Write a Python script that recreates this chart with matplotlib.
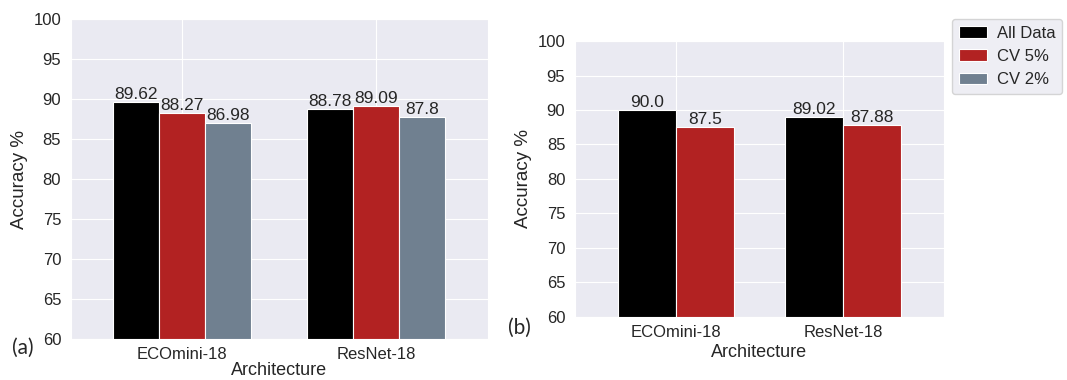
import numpy as np
import matplotlib
matplotlib.use('Agg')
import matplotlib.pyplot as plt
import seaborn as sns

sns.set_style('darkgrid')
plt.rcParams['font.family'] = ['Liberation Sans', 'DejaVu Sans']

# Accuracy per architecture
architectures = ['ECOmini-18', 'ResNet-18']
series = ['All Data', 'CV 5%', 'CV 2%']
colors = ['black', 'firebrick', 'slategray']

acc_a = [
    [89.62, 88.78],   # All Data
    [88.27, 89.09],   # CV 5%
    [86.98, 87.8],    # CV 2%
]
acc_b = [
    [90.0, 89.02],    # All Data
    [87.5, 87.88],    # CV 5%
]

fig = plt.figure(figsize=(10.67, 3.8), dpi=100)
ax_a = fig.add_axes([0.0665, 0.1079, 0.3908, 0.842])
ax_b = fig.add_axes([0.5389, 0.1658, 0.3458, 0.7263])

x = np.arange(len(architectures))

# Panel (a): three bars per architecture
w = 0.237
handles = []
for i, vals in enumerate(acc_a):
    bars = ax_a.bar(x + (i - 1) * w, vals, w, color=colors[i], label=series[i],
                    edgecolor='white', linewidth=0.8)
    ax_a.bar_label(bars, labels=[str(v) for v in vals], fontsize=12.5, padding=0)
    handles.append(bars)
ax_a.set_xlim(-0.572, 1.577)

# Panel (b): two bars per architecture
w = 0.35
for i, vals in enumerate(acc_b):
    bars = ax_b.bar(x + (i - 0.5) * w, vals, w, color=colors[i],
                    edgecolor='white', linewidth=0.8)
    ax_b.bar_label(bars, labels=[str(v) for v in vals], fontsize=12.5, padding=0)
ax_b.set_xlim(-0.605, 1.605)

for ax, lp in ((ax_a, 0), (ax_b, 3)):
    ax.set_ylim(60, 100)
    ax.set_yticks(np.arange(60, 101, 5))
    ax.set_xticks(x)
    ax.set_xticklabels(architectures)
    ax.tick_params(labelsize=12)
    ax.tick_params(axis='x', pad=2)
    ax.set_xlabel('Architecture', fontsize=13, labelpad=lp)
    ax.set_ylabel('Accuracy %', fontsize=13.5)

fig.legend(handles, series, loc='upper left', bbox_to_anchor=(952 / 1067, 1 - 19 / 380),
           fontsize=12, frameon=True, borderaxespad=0, handlelength=1.7,
           handletextpad=0.6, borderpad=0.4)

fig.text(12 / 1067, 1 - 348 / 380, '(a)', fontsize=15, family=['Lato', 'DejaVu Sans'], va='center')
fig.text(508 / 1067, 1 - 328 / 380, '(b)', fontsize=15, family=['Lato', 'DejaVu Sans'], va='center')

fig.savefig('out.png', dpi=100)
